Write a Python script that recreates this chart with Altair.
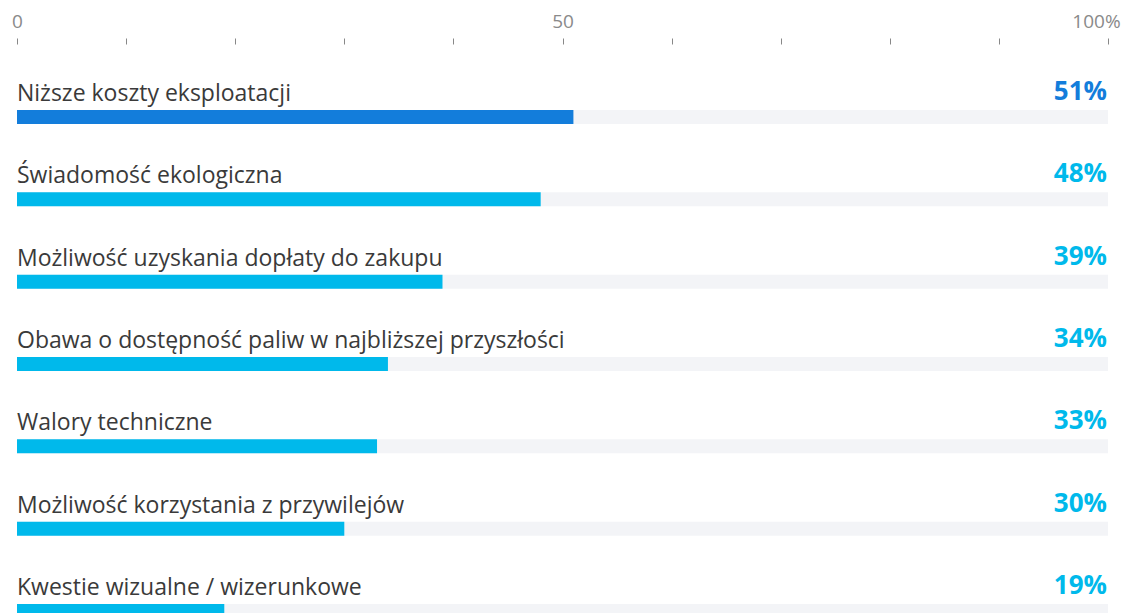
import altair as alt
import pandas as pd

categories = [
    "Niższe koszty eksploatacji",
    "Świadomość ekologiczna",
    "Możliwość uzyskania dopłaty do zakupu",
    "Obawa o dostępność paliw w najbliższej przyszłości",
    "Walory techniczne",
    "Możliwość korzystania z przywilejów",
    "Kwestie wizualne / wizerunkowe",
]
values = [51, 48, 39, 34, 33, 30, 19]
full = [100] * len(categories)
colors = ["#137ddb"] + ["#00b9eb"] * (len(categories) - 1)

df = pd.DataFrame({
    "cat": categories,
    "value": values,
    "full": full,
    "color": colors,
    "label": [f"{v}%" for v in values],
})

FONT = "Open Sans"

y = alt.Y("cat:N", sort=categories, axis=None,
          scale=alt.Scale(type="point", padding=0.887))

xaxis = alt.Axis(
    orient="top",
    values=list(range(0, 101, 10)),
    labelExpr="datum.value == 0 ? '0' : datum.value == 50 ? '50' : datum.value == 100 ? '100%' : ''",
    title=None, domain=False, grid=False,
    tickSize=6, tickColor="#888888", tickWidth=1,
    labelColor="#8a8a8a",
    labelPadding=7, labelFlush=False, labelOverlap=False,
    labelOffset=alt.ExprRef("datum.value == 100 ? -12 : 0"),
)

base = alt.Chart(df)

bg = base.mark_bar(size=14, color="#f3f4f7").encode(
    x=alt.X("full:Q", scale=alt.Scale(domain=[0, 100], nice=False), axis=xaxis),
    y=y,
)
fg = base.mark_bar(size=14).encode(
    x=alt.X("value:Q"),
    y=y,
    color=alt.Color("color:N", scale=None),
)
cat_text = base.mark_text(align="left", baseline="alphabetic", dy=-16,
                          fontSize=23, color="#3a3a3a", font=FONT).encode(
    x=alt.value(0),
    y=y,
    text="cat:N",
)
val_text = base.mark_text(align="right", baseline="alphabetic", dy=-17,
                          fontSize=26, fontWeight="bold", font=FONT).encode(
    x=alt.value(1090),
    y=y,
    text="label:N",
    color=alt.Color("color:N", scale=None),
)

chart = alt.layer(bg, fg, cat_text, val_text).properties(
    width=1091, height=640,
    autosize=alt.AutoSizeParams(type="none"),
    padding={"left": 9, "top": 36, "right": 18, "bottom": 0},
).configure(font=FONT).configure_axis(
    labelFontSize=19, labelFont=FONT
).configure_view(stroke=None)

chart.save("out.html", embed_options={"renderer": "svg", "actions": False})
